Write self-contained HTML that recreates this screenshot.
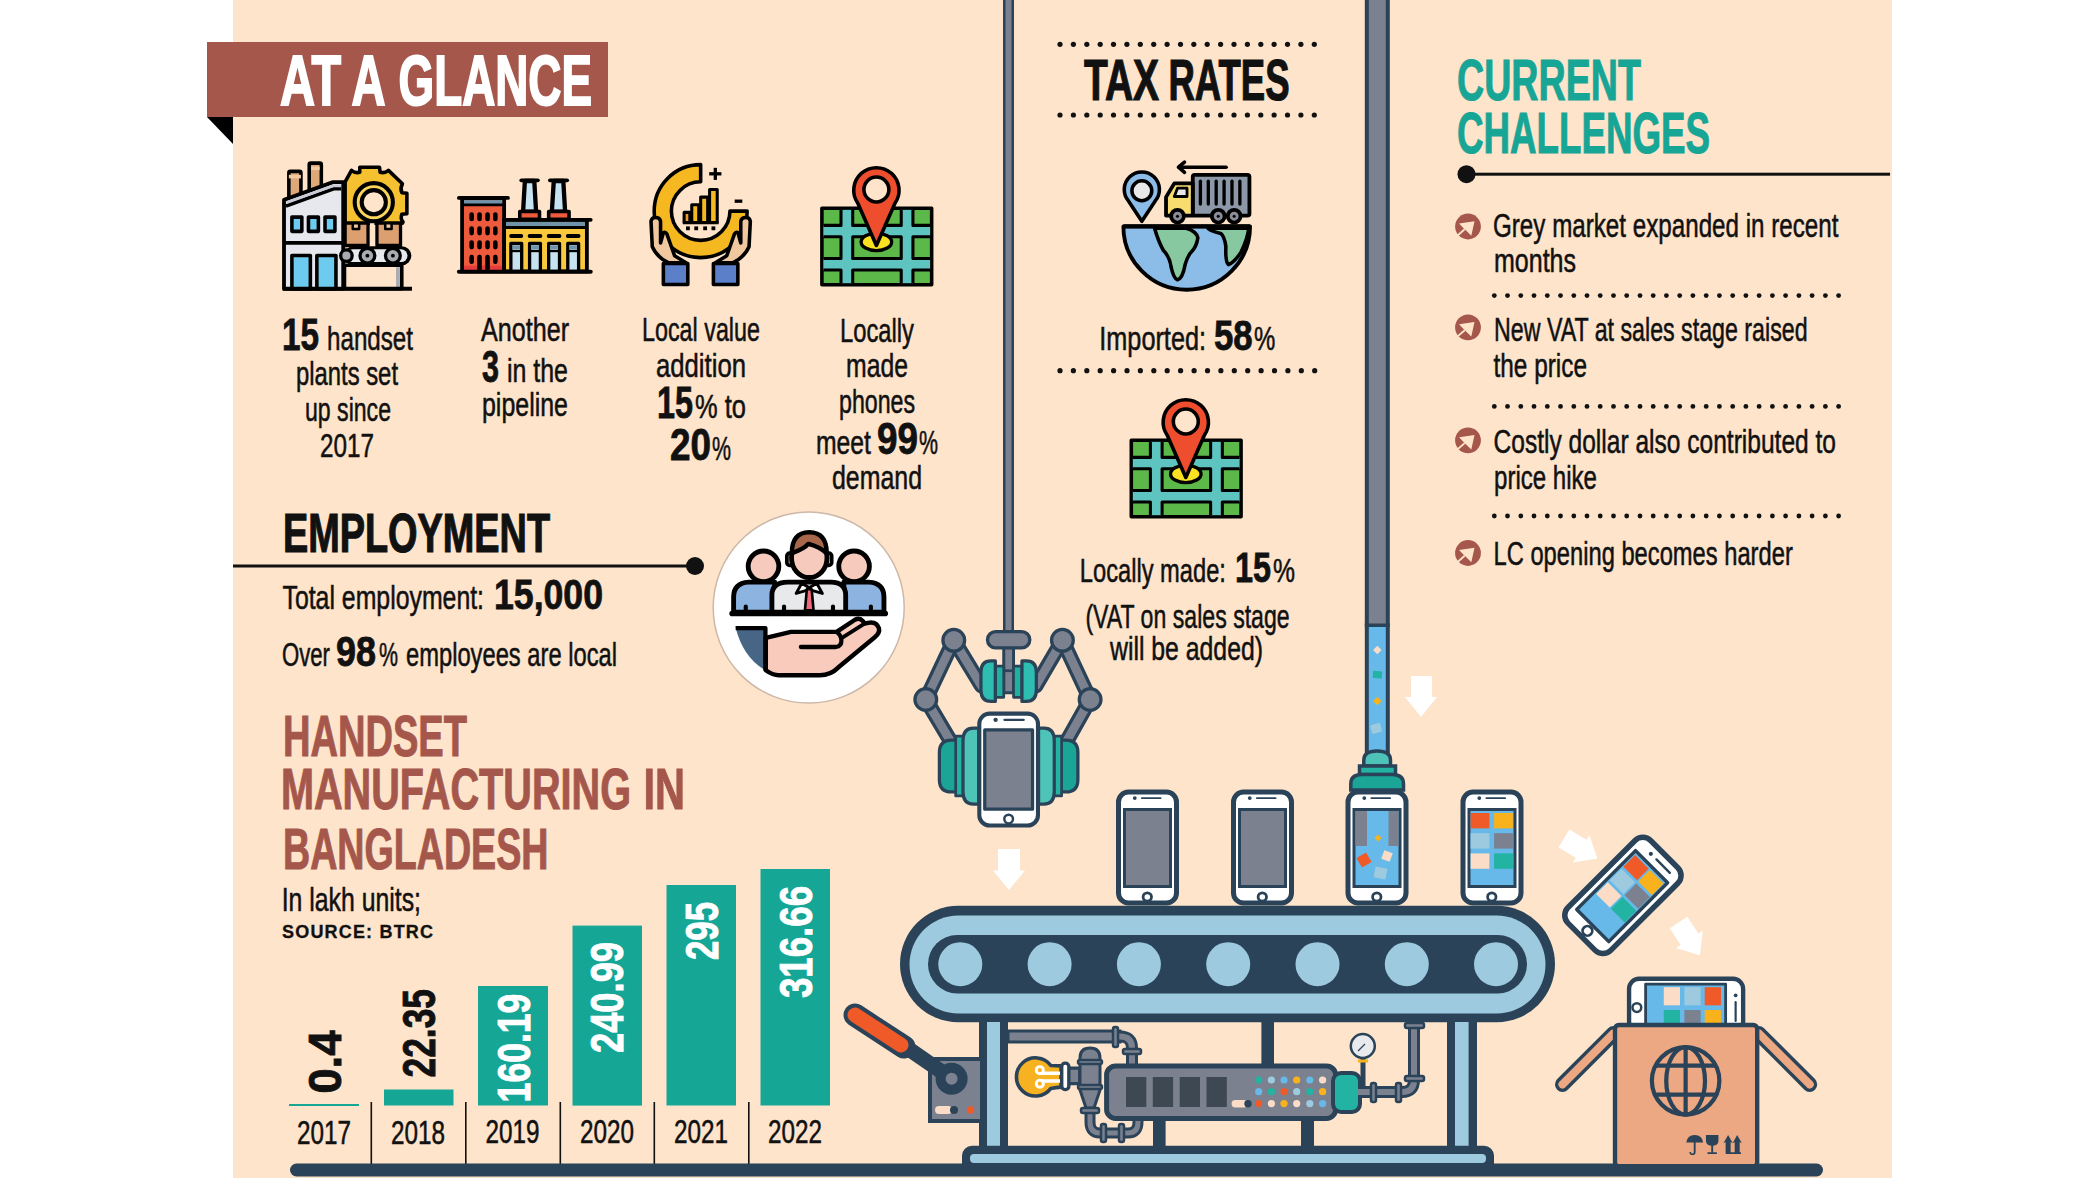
<!DOCTYPE html>
<html><head><meta charset="utf-8">
<style>
html,body{margin:0;padding:0;background:#fff;width:2100px;height:1178px;overflow:hidden}
svg{display:block}
text{font-family:"Liberation Sans",sans-serif}
.r{font-weight:400;fill:#111;stroke:#111;stroke-width:0.55px}
.b{font-weight:700;fill:#111;stroke:#111;stroke-width:0.8px}
</style></head><body>
<svg width="2100" height="1178" viewBox="0 0 2100 1178">
<rect x="0" y="0" width="2100" height="1178" fill="#ffffff"/>
<rect x="233" y="0" width="1659" height="1178" fill="#fde4cb"/>

<!-- ===== AT A GLANCE banner ===== -->
<rect x="207" y="42" width="401" height="75" fill="#a5574b"/>
<polygon points="207,117 233,117 233,144" fill="#000"/>
<g font-size="70" font-weight="700" fill="#fff" stroke="#fff" stroke-width="2">
<text x="280" y="104.6" textLength="61" lengthAdjust="spacingAndGlyphs">AT</text>
<text x="351.5" y="104.6" textLength="34" lengthAdjust="spacingAndGlyphs">A</text>
<text x="398.5" y="104.6" textLength="193.5" lengthAdjust="spacingAndGlyphs">GLANCE</text>
</g>

<!-- ===== ICON 1: factory + gear ===== -->
<g transform="translate(270,150) scale(0.12733)" stroke="#000" stroke-linejoin="round">
 <!-- chimneys -->
 <rect x="148" y="168" width="95" height="220" rx="12" fill="#dfa878" stroke-width="28"/>
 <rect x="148" y="195" width="95" height="28" fill="#f3c9a0" stroke="none"/>
 <rect x="308" y="103" width="95" height="220" rx="12" fill="#dfa878" stroke-width="28"/>
 <rect x="322" y="130" width="68" height="28" fill="#f3c9a0" stroke="none"/>
 <!-- gear -->
 <path d="M705,135 L860,135 L865,175 Q900,185 930,160 L1040,265 Q1020,300 1035,335 L1075,340 L1075,500 L1035,505 Q1022,540 1045,565 L1040,575 L590,575 L590,250 L640,160 Q670,185 705,175 Z" fill="#f5c130" stroke-width="28"/>
 <circle cx="815" cy="410" r="150" fill="#f9d55e" stroke-width="32"/>
 <circle cx="815" cy="410" r="95" fill="#fde4cb" stroke-width="32"/>
 <!-- building -->
 <path d="M110,1090 L110,392 L495,252 L575,252 L575,1090 Z" fill="#e6e8ee" stroke-width="30"/>
 <path d="M125,440 L500,305 L560,305" fill="none" stroke="#000" stroke-width="28"/>
 <path d="M132,400 L495,270 L558,270 L558,292 L495,292 L132,425 Z" fill="#c9ccd6" stroke="none"/>
 <line x1="110" y1="730" x2="575" y2="730" stroke-width="30"/>
 <rect x="172" y="527" width="78" height="112" fill="#6ccbef" stroke-width="28"/>
 <rect x="302" y="527" width="78" height="112" fill="#6ccbef" stroke-width="28"/>
 <rect x="432" y="527" width="78" height="112" fill="#6ccbef" stroke-width="28"/>
 <rect x="172" y="828" width="145" height="262" fill="#6ccbef" stroke-width="28"/>
 <rect x="368" y="828" width="150" height="262" fill="#6ccbef" stroke-width="28"/>
 <!-- boxes -->
 <rect x="590" y="575" width="180" height="175" fill="#dca070" stroke-width="26"/>
 <rect x="840" y="575" width="185" height="175" fill="#dca070" stroke-width="26"/>
 <rect x="650" y="575" width="50" height="45" fill="#f3c9a0" stroke-width="20"/>
 <rect x="905" y="575" width="50" height="45" fill="#f3c9a0" stroke-width="20"/>
 <rect x="785" y="575" width="35" height="175" fill="#fde4cb" stroke="none"/>
 <!-- conveyor -->
 <rect x="580" y="755" width="530" height="150" rx="75" fill="#000" stroke="none"/>
 <rect x="600" y="780" width="480" height="100" rx="50" fill="#e6e8ee" stroke="none"/>
 <circle cx="765" cy="830" r="58" fill="#a9abb2" stroke-width="26"/>
 <circle cx="765" cy="830" r="15" fill="#000" stroke="none"/>
 <circle cx="965" cy="830" r="58" fill="#a9abb2" stroke-width="26"/>
 <circle cx="965" cy="830" r="15" fill="#000" stroke="none"/>
 <circle cx="600" cy="830" r="45" fill="#a9abb2" stroke-width="26"/>
 <!-- stand -->
 <rect x="585" y="905" width="450" height="185" fill="#fde4cb" stroke-width="28"/>
 <rect x="990" y="920" width="30" height="160" fill="#a9abb2" stroke="none"/>
 <line x1="100" y1="1090" x2="1115" y2="1090" stroke-width="32"/>
</g>

<!-- ===== ICON 2: buildings ===== -->
<g transform="translate(450,160) scale(0.12733)" stroke="#000" stroke-linejoin="round">
 <!-- chimneys -->
 <path d="M588,165 L662,165 L676,405 L574,405 Z" fill="#c7e3f2" stroke-width="34"/>
 <path d="M815,165 L890,165 L904,405 L800,405 Z" fill="#c7e3f2" stroke-width="34"/>
 <line x1="560" y1="160" x2="690" y2="160" stroke-width="30" stroke-linecap="round"/>
 <line x1="785" y1="160" x2="920" y2="160" stroke-width="30" stroke-linecap="round"/>
 <rect x="548" y="405" width="155" height="60" fill="#ee5a3c" stroke-width="28"/>
 <rect x="775" y="405" width="160" height="60" fill="#ee5a3c" stroke-width="28"/>
 <!-- red building -->
 <rect x="95" y="300" width="330" height="575" fill="#ee5a3c" stroke-width="30"/>
 <rect x="110" y="315" width="300" height="35" fill="#6f93a8" stroke="none"/>
 <line x1="95" y1="352" x2="425" y2="352" stroke-width="22"/>
 <rect x="110" y="830" width="300" height="35" fill="#e63c3c" stroke="none"/>
 <line x1="70" y1="298" x2="455" y2="298" stroke-width="30" stroke-linecap="round"/>
 <g fill="#000" stroke="none">
  <rect x="152" y="410" width="36" height="72" rx="18"/><rect x="214" y="410" width="36" height="72" rx="18"/><rect x="277" y="410" width="36" height="72" rx="18"/><rect x="338" y="410" width="36" height="72" rx="18"/>
  <rect x="152" y="520" width="36" height="72" rx="18"/><rect x="214" y="520" width="36" height="72" rx="18"/><rect x="277" y="520" width="36" height="72" rx="18"/><rect x="338" y="520" width="36" height="72" rx="18"/>
  <rect x="152" y="630" width="36" height="72" rx="18"/><rect x="214" y="630" width="36" height="72" rx="18"/><rect x="277" y="630" width="36" height="72" rx="18"/><rect x="338" y="630" width="36" height="72" rx="18"/>
  <rect x="152" y="745" width="36" height="72" rx="18"/><rect x="214" y="745" width="36" height="130" rx="18"/><rect x="277" y="745" width="36" height="130" rx="18"/><rect x="338" y="745" width="36" height="72" rx="18"/>
 </g>
 <!-- yellow building -->
 <rect x="425" y="470" width="650" height="405" fill="#f9c83c" stroke-width="30"/>
 <rect x="440" y="485" width="620" height="38" fill="#6f93a8" stroke="none"/>
 <line x1="425" y1="530" x2="1075" y2="530" stroke-width="24"/>
 <line x1="425" y1="470" x2="1105" y2="470" stroke-width="30" stroke-linecap="round"/>
 <g stroke-width="30" stroke-linecap="round">
  <line x1="480" y1="597" x2="560" y2="597"/><line x1="625" y1="597" x2="710" y2="597"/><line x1="775" y1="597" x2="860" y2="597"/><line x1="925" y1="597" x2="1010" y2="597"/>
 </g>
 <g stroke-width="26">
  <rect x="478" y="655" width="85" height="220" fill="#c7e3f2"/><rect x="625" y="655" width="85" height="220" fill="#c7e3f2"/>
  <rect x="775" y="655" width="85" height="220" fill="#c7e3f2"/><rect x="925" y="655" width="85" height="220" fill="#c7e3f2"/>
 </g>
 <g fill="#6f93a8" stroke="none">
  <rect x="492" y="670" width="58" height="32"/><rect x="639" y="670" width="58" height="32"/><rect x="789" y="670" width="58" height="32"/><rect x="939" y="670" width="58" height="32"/>
 </g>
 <g stroke-width="18">
  <line x1="478" y1="715" x2="563" y2="715"/><line x1="625" y1="715" x2="710" y2="715"/><line x1="775" y1="715" x2="860" y2="715"/><line x1="925" y1="715" x2="1010" y2="715"/>
 </g>
 <line x1="70" y1="877" x2="1105" y2="877" stroke-width="32" stroke-linecap="round"/>
</g>

<!-- ===== ICON 3: hands + donut ===== -->
<g transform="translate(630,150) scale(0.12733)" stroke="#000" stroke-linejoin="round">
 <!-- donut arc: from top (555,115) ccw to right (920,480) -->
 <path d="M555,115 A365,365 0 1 0 920,480 L785,480 A230,230 0 1 1 555,250 Z" fill="#f5b820" stroke-width="28"/>
 <!-- bars -->
 <rect x="425" y="490" width="45" height="80" fill="#ee9a2c" stroke-width="24"/>
 <rect x="485" y="430" width="55" height="140" fill="#f5b820" stroke-width="24"/>
 <rect x="555" y="370" width="55" height="200" fill="#f5b820" stroke-width="24"/>
 <rect x="625" y="310" width="60" height="260" fill="#f5b820" stroke-width="24"/>
 <line x1="415" y1="570" x2="695" y2="570" stroke-width="26"/>
 <g fill="#000" stroke="none">
  <rect x="440" y="600" width="30" height="30"/><rect x="505" y="600" width="30" height="30"/><rect x="575" y="600" width="30" height="30"/><rect x="640" y="600" width="30" height="30"/>
 </g>
 <g stroke-width="26"><line x1="670" y1="140" x2="670" y2="235"/><line x1="622" y1="187" x2="718" y2="187"/><line x1="822" y1="402" x2="882" y2="402"/></g>
 <!-- hands -->
 <path d="M300,885 Q210,840 175,760 L165,560 Q170,530 200,530 Q235,530 240,560 L240,730 L262,650 Q275,640 290,660 L325,760 L350,830 L440,885 Z" fill="#f0c8a0" stroke-width="28"/>
 <path d="M810,885 Q900,840 935,760 L945,560 Q940,530 910,530 Q875,530 870,560 L870,730 L848,650 Q835,640 820,660 L785,760 L760,830 L670,885 Z" fill="#f0c8a0" stroke-width="28"/>
 <rect x="262" y="892" width="192" height="165" fill="#5b7fc8" stroke-width="28"/>
 <rect x="655" y="892" width="192" height="165" fill="#5b7fc8" stroke-width="28"/>
</g>

<!-- ===== MAP ICON (used twice) ===== -->
<defs>
<g id="mapIcon" stroke="#000" stroke-linejoin="round">
 <rect x="172" y="458" width="862" height="600" fill="#5cb848" stroke-width="28"/>
 <g fill="#5ec4c0" stroke="none">
  <rect x="322" y="470" width="92" height="576"/><rect x="795" y="470" width="92" height="576"/>
  <rect x="184" y="592" width="838" height="90"/><rect x="184" y="852" width="838" height="90"/>
 </g>
 <g fill="none" stroke-width="24">
  <path d="M322,470 L322,592 L184,592"/><path d="M414,470 L414,592 L795,592 L795,470"/><path d="M887,470 L887,592 L1022,592"/>
  <path d="M184,682 L322,682 L322,852 L184,852"/><path d="M414,682 L795,682 L795,852 L414,852 Z"/><path d="M1022,682 L887,682 L887,852 L1022,852"/>
  <path d="M184,942 L322,942 L322,1046"/><path d="M414,1046 L414,942 L795,942 L795,1046"/><path d="M887,1046 L887,942 L1022,942"/>
 </g>
 <ellipse cx="600" cy="722" rx="120" ry="68" fill="#f9e020" stroke-width="26"/>
 <path d="M600,750 L455,420 A178,178 0 1 1 745,420 Z" fill="#ee4d2e" stroke-width="28"/>
 <circle cx="600" cy="310" r="98" fill="#fde4cb" stroke-width="28"/>
</g>
</defs>
<use href="#mapIcon" transform="translate(800,150) scale(0.12733)"/>
<use href="#mapIcon" transform="translate(1109.4,382) scale(0.12733)"/>

<!-- ===== GLOBE + TRUCK ===== -->
<g transform="translate(1110,150) scale(0.12733)" stroke="#000" stroke-linejoin="round">
 <path d="M105,600 L1100,600 A497,497 0 0 1 105,600 Z" fill="#8cbce8" stroke-width="30"/>
 <path d="M350,615 Q380,720 420,790 Q470,840 480,920 Q500,1010 530,1020 Q570,1010 590,900 Q610,830 640,800 Q680,760 690,690 Q680,640 600,615 Z" fill="#88c8a0" stroke-width="28"/>
 <path d="M770,615 Q800,640 870,655 Q900,680 910,760 Q905,880 930,900 Q980,880 1030,800 Q1080,700 1090,615 Z" fill="#88c8a0" stroke-width="28"/>
 <path d="M105,600 L1100,600" stroke-width="34"/>
 <!-- pin -->
 <path d="M250,560 L145,400 A138,138 0 1 1 355,400 Z" fill="#8cbce8" stroke-width="28"/>
 <circle cx="250" cy="320" r="78" fill="#e8e8ea" stroke-width="28"/>
 <!-- truck -->
 <rect x="650" y="195" width="445" height="320" rx="15" fill="#8c98a8" stroke-width="30"/>
 <g stroke-width="26" stroke-linecap="round">
  <line x1="710" y1="245" x2="710" y2="425"/><line x1="772" y1="245" x2="772" y2="425"/><line x1="834" y1="245" x2="834" y2="425"/>
  <line x1="896" y1="245" x2="896" y2="425"/><line x1="958" y1="245" x2="958" y2="425"/><line x1="1020" y1="245" x2="1020" y2="425"/>
 </g>
 <path d="M650,262 L505,262 L440,370 L440,515 L650,515 Z" fill="#f8dc70" stroke-width="30"/>
 <path d="M530,300 L605,300 L605,365 L505,365 Z" fill="#e8e8ea" stroke-width="22"/>
 <circle cx="530" cy="520" r="50" fill="#8c8c98" stroke-width="30"/><circle cx="530" cy="520" r="12" fill="#000" stroke="none"/>
 <circle cx="850" cy="520" r="50" fill="#8c8c98" stroke-width="30"/><circle cx="850" cy="520" r="12" fill="#000" stroke="none"/>
 <circle cx="975" cy="520" r="50" fill="#8c8c98" stroke-width="30"/><circle cx="975" cy="520" r="12" fill="#000" stroke="none"/>
 <g stroke-width="28" stroke-linecap="round" fill="none">
  <line x1="540" y1="135" x2="912" y2="135"/><path d="M585,95 L538,135 L585,175"/>
 </g>
</g>


<!-- ===== captions ===== -->
<g>
<text class="b" x="282" y="350" font-size="45" textLength="37" lengthAdjust="spacingAndGlyphs">15</text>
<text class="r" x="327" y="350" font-size="34" textLength="86" lengthAdjust="spacingAndGlyphs">handset</text>
<text class="r" x="296" y="385" font-size="34" textLength="102" lengthAdjust="spacingAndGlyphs">plants set</text>
<text class="r" x="305" y="421" font-size="34" textLength="86" lengthAdjust="spacingAndGlyphs">up since</text>
<text class="r" x="320" y="457" font-size="34" textLength="54" lengthAdjust="spacingAndGlyphs">2017</text>

<text class="r" x="481" y="341" font-size="34" textLength="88" lengthAdjust="spacingAndGlyphs">Another</text>
<text class="b" x="482" y="382" font-size="45" textLength="17" lengthAdjust="spacingAndGlyphs">3</text>
<text class="r" x="507" y="382" font-size="34" textLength="61" lengthAdjust="spacingAndGlyphs">in the</text>
<text class="r" x="482" y="416" font-size="34" textLength="86" lengthAdjust="spacingAndGlyphs">pipeline</text>

<text class="r" x="642" y="341" font-size="34" textLength="118" lengthAdjust="spacingAndGlyphs">Local value</text>
<text class="r" x="656" y="376.5" font-size="34" textLength="90" lengthAdjust="spacingAndGlyphs">addition</text>
<text class="b" x="657" y="418" font-size="45" textLength="36" lengthAdjust="spacingAndGlyphs">15</text>
<text class="r" x="695" y="418" font-size="34" textLength="51" lengthAdjust="spacingAndGlyphs">% to</text>
<text class="b" x="670" y="459.5" font-size="45" textLength="41" lengthAdjust="spacingAndGlyphs">20</text>
<text class="r" x="712" y="459.5" font-size="34" textLength="19" lengthAdjust="spacingAndGlyphs">%</text>

<text class="r" x="840" y="341.6" font-size="34" textLength="74" lengthAdjust="spacingAndGlyphs">Locally</text>
<text class="r" x="846" y="377" font-size="34" textLength="62" lengthAdjust="spacingAndGlyphs">made</text>
<text class="r" x="839" y="413" font-size="34" textLength="76" lengthAdjust="spacingAndGlyphs">phones</text>
<text class="r" x="816" y="453.7" font-size="34" textLength="55" lengthAdjust="spacingAndGlyphs">meet</text>
<text class="b" x="877" y="453.7" font-size="45" textLength="41" lengthAdjust="spacingAndGlyphs">99</text>
<text class="r" x="919" y="453.7" font-size="34" textLength="19" lengthAdjust="spacingAndGlyphs">%</text>
<text class="r" x="832" y="489.4" font-size="34" textLength="90" lengthAdjust="spacingAndGlyphs">demand</text>
</g>

<!-- ===== EMPLOYMENT ===== -->
<text class="b" style="stroke-width:1.2px" x="283" y="552" font-size="55" textLength="267" lengthAdjust="spacingAndGlyphs">EMPLOYMENT</text>
<rect x="233" y="564.5" width="462" height="3" fill="#111"/>
<circle cx="695" cy="566" r="9" fill="#111"/>
<text class="r" x="282.5" y="608.5" font-size="34" textLength="201.5" lengthAdjust="spacingAndGlyphs">Total employment:</text>
<text class="b" x="494" y="608.5" font-size="43" textLength="109" lengthAdjust="spacingAndGlyphs">15,000</text>
<text class="r" x="282" y="665.7" font-size="34" textLength="48" lengthAdjust="spacingAndGlyphs">Over</text>
<text class="b" x="336" y="665.7" font-size="43" textLength="40" lengthAdjust="spacingAndGlyphs">98</text>
<text class="r" x="379" y="665.7" font-size="34" textLength="19" lengthAdjust="spacingAndGlyphs">%</text>
<text class="r" x="406" y="665.7" font-size="34" textLength="211" lengthAdjust="spacingAndGlyphs">employees are local</text>

<!-- ===== PEOPLE CIRCLE (zoomed coords origin 700,500 s=0.18676) ===== -->
<circle cx="808.7" cy="607.6" r="95.5" fill="#fff" stroke="#cdb8a8" stroke-width="1.5"/>
<g transform="translate(700,500) scale(0.18676)" stroke="#000" stroke-linejoin="round">
 <!-- left & right bodies -->
 <path d="M180,600 L180,520 Q180,445 260,440 L400,440 L400,600 Z" fill="#8db3e0" stroke-width="26"/>
 <path d="M985,600 L985,520 Q985,445 905,440 L770,440 L770,600 Z" fill="#8db3e0" stroke-width="26"/>
 <circle cx="340" cy="355" r="82" fill="#f6cbbd" stroke-width="26"/>
 <circle cx="825" cy="355" r="82" fill="#f6cbbd" stroke-width="26"/>
 <!-- centre body -->
 <path d="M385,600 L385,510 Q385,440 470,440 L700,440 Q780,440 780,510 L780,600 Z" fill="#e8e9ea" stroke-width="26"/>
 <path d="M545,445 L585,470 L625,445 L655,500 L585,480 L515,500 Z" fill="#fff" stroke-width="16"/>
 <path d="M572,478 L598,478 L608,590 L562,590 Z" fill="#ee6a78" stroke-width="14"/>
 <!-- centre head -->
 <rect x="465" y="285" width="40" height="65" rx="15" fill="#f6cbbd" stroke-width="20"/>
 <rect x="665" y="285" width="40" height="65" rx="15" fill="#f6cbbd" stroke-width="20"/>
 <ellipse cx="585" cy="310" rx="95" ry="105" fill="#f6cbbd" stroke-width="26"/>
 <path d="M492,285 Q490,175 585,172 Q680,175 678,285 Q640,250 580,235 Q560,260 492,285 Z" fill="#a8664a" stroke-width="24"/>
 <!-- arm slits -->
 <g stroke-width="22" stroke-linecap="round"><line x1="245" y1="570" x2="245" y2="598"/><line x1="450" y1="570" x2="450" y2="598"/><line x1="712" y1="570" x2="712" y2="598"/><line x1="915" y1="570" x2="915" y2="598"/></g>
 <line x1="172" y1="608" x2="992" y2="608" stroke-width="30" stroke-linecap="round"/>
 <!-- hand -->
</g>
<g transform="translate(730,615) scale(0.07619)" stroke="#000" stroke-linejoin="round" stroke-linecap="round">
 <path d="M70,150 L465,150 L465,725 Q170,560 70,150 Z" fill="#476585" stroke="none"/>
 <path d="M75,172 L465,172 L465,728" fill="none" stroke-width="56" stroke-linecap="butt"/>
 <path d="M470,300 L800,222 L1400,222 L1640,62 Q1700,28 1745,80 L1765,112 L1835,100 Q1925,92 1955,175 Q1970,235 1900,292 L1420,690 Q1320,790 1180,790 L640,790 Q560,790 470,725 Z" fill="#f9cbbd" stroke-width="58"/>
 <path d="M1480,295 L1765,112" fill="none" stroke-width="50"/>
 <path d="M930,420 L1390,420 Q1465,412 1462,330 Q1455,255 1400,224" fill="none" stroke-width="56"/>
</g>

<!-- ===== BULLETS ===== -->
<defs>
<g id="bul">
 <circle cx="0" cy="0" r="12.9" fill="#a5574b"/>
 <polygon points="6.5,-5.3 3.3,9.2 -2.4,3.6 -4.2,1.9 -8.9,-3.1" fill="#fde4cb"/>
 <line x1="-3.3" y1="2.8" x2="-11" y2="9.5" stroke="#fde4cb" stroke-width="1.8"/>
</g>
</defs>
<use href="#bul" x="1468" y="226.5"/>
<use href="#bul" x="1468" y="327.4"/>
<use href="#bul" x="1468" y="440.3"/>
<use href="#bul" x="1468" y="553"/>


<!-- ===== HANDSET MANUFACTURING ===== -->
<g fill="#a5574b" stroke="#a5574b" stroke-width="1" font-weight="700">
<text x="283" y="756" font-size="57" textLength="184" lengthAdjust="spacingAndGlyphs">HANDSET</text>
<text x="281" y="809.3" font-size="57" textLength="350" lengthAdjust="spacingAndGlyphs">MANUFACTURING</text>
<text x="643.5" y="809.3" font-size="57" textLength="41.5" lengthAdjust="spacingAndGlyphs">IN</text>
<text x="283" y="868.7" font-size="57" textLength="265.4" lengthAdjust="spacingAndGlyphs">BANGLADESH</text>
</g>
<text class="r" x="281.7" y="911" font-size="34" textLength="139.3" lengthAdjust="spacingAndGlyphs">In lakh units;</text>
<text class="b" style="stroke-width:0.3px" x="282" y="938" font-size="18" textLength="151" lengthAdjust="spacing">SOURCE: BTRC</text>

<!-- ===== BAR CHART ===== -->
<g fill="#16a696">
<rect x="289" y="1104" width="70" height="2"/>
<rect x="384" y="1089.5" width="69.5" height="16"/>
<rect x="478" y="986" width="70" height="119.5"/>
<rect x="572.5" y="925.6" width="69.5" height="180"/>
<rect x="666.5" y="885" width="69.5" height="220.5"/>
<rect x="760.5" y="869" width="69.5" height="236.5"/>
</g>
<g fill="#111">
<rect x="370.5" y="1102" width="1.6" height="62"/>
<rect x="465" y="1102" width="1.6" height="62"/>
<rect x="559.5" y="1102" width="1.6" height="62"/>
<rect x="653.5" y="1102" width="1.6" height="62"/>
<rect x="748" y="1102" width="1.6" height="62"/>
</g>
<g class="r" font-size="34">
<text class="r" x="297" y="1144" textLength="54" lengthAdjust="spacingAndGlyphs">2017</text>
<text class="r" x="391" y="1144" textLength="54" lengthAdjust="spacingAndGlyphs">2018</text>
<text class="r" x="485.6" y="1143.4" textLength="54" lengthAdjust="spacingAndGlyphs">2019</text>
<text class="r" x="580" y="1143.4" textLength="54" lengthAdjust="spacingAndGlyphs">2020</text>
<text class="r" x="674" y="1143.4" textLength="54" lengthAdjust="spacingAndGlyphs">2021</text>
<text class="r" x="768" y="1143.4" textLength="54" lengthAdjust="spacingAndGlyphs">2022</text>
</g>
<g font-weight="700" font-size="46" stroke-width="0.9">
<text fill="#111" stroke="#111" transform="translate(341,1093.6) rotate(-90)" textLength="63" lengthAdjust="spacingAndGlyphs">0.4</text>
<text fill="#111" stroke="#111" transform="translate(435,1077.5) rotate(-90)" textLength="88.5" lengthAdjust="spacingAndGlyphs">22.35</text>
<text fill="#fff" stroke="#fff" transform="translate(530,1102.4) rotate(-90)" textLength="108.8" lengthAdjust="spacingAndGlyphs">160.19</text>
<text fill="#fff" stroke="#fff" transform="translate(623,1053) rotate(-90)" textLength="111" lengthAdjust="spacingAndGlyphs">240.99</text>
<text fill="#fff" stroke="#fff" transform="translate(718,960) rotate(-90)" textLength="58" lengthAdjust="spacingAndGlyphs">295</text>
<text fill="#fff" stroke="#fff" transform="translate(812,998) rotate(-90)" textLength="112" lengthAdjust="spacingAndGlyphs">316.66</text>
</g>

<!-- ===== TAX RATES ===== -->
<g fill="#111"><circle cx="1060.0" cy="44.3" r="2.6"/><circle cx="1073.4" cy="44.3" r="2.6"/><circle cx="1086.8" cy="44.3" r="2.6"/><circle cx="1100.2" cy="44.3" r="2.6"/><circle cx="1113.5" cy="44.3" r="2.6"/><circle cx="1126.9" cy="44.3" r="2.6"/><circle cx="1140.3" cy="44.3" r="2.6"/><circle cx="1153.7" cy="44.3" r="2.6"/><circle cx="1167.1" cy="44.3" r="2.6"/><circle cx="1180.5" cy="44.3" r="2.6"/><circle cx="1193.8" cy="44.3" r="2.6"/><circle cx="1207.2" cy="44.3" r="2.6"/><circle cx="1220.6" cy="44.3" r="2.6"/><circle cx="1234.0" cy="44.3" r="2.6"/><circle cx="1247.4" cy="44.3" r="2.6"/><circle cx="1260.8" cy="44.3" r="2.6"/><circle cx="1274.1" cy="44.3" r="2.6"/><circle cx="1287.5" cy="44.3" r="2.6"/><circle cx="1300.9" cy="44.3" r="2.6"/><circle cx="1314.3" cy="44.3" r="2.6"/><circle cx="1060.0" cy="115" r="2.6"/><circle cx="1073.4" cy="115" r="2.6"/><circle cx="1086.8" cy="115" r="2.6"/><circle cx="1100.2" cy="115" r="2.6"/><circle cx="1113.5" cy="115" r="2.6"/><circle cx="1126.9" cy="115" r="2.6"/><circle cx="1140.3" cy="115" r="2.6"/><circle cx="1153.7" cy="115" r="2.6"/><circle cx="1167.1" cy="115" r="2.6"/><circle cx="1180.5" cy="115" r="2.6"/><circle cx="1193.8" cy="115" r="2.6"/><circle cx="1207.2" cy="115" r="2.6"/><circle cx="1220.6" cy="115" r="2.6"/><circle cx="1234.0" cy="115" r="2.6"/><circle cx="1247.4" cy="115" r="2.6"/><circle cx="1260.8" cy="115" r="2.6"/><circle cx="1274.1" cy="115" r="2.6"/><circle cx="1287.5" cy="115" r="2.6"/><circle cx="1300.9" cy="115" r="2.6"/><circle cx="1314.3" cy="115" r="2.6"/><circle cx="1060.0" cy="370.7" r="2.6"/><circle cx="1073.4" cy="370.7" r="2.6"/><circle cx="1086.8" cy="370.7" r="2.6"/><circle cx="1100.2" cy="370.7" r="2.6"/><circle cx="1113.6" cy="370.7" r="2.6"/><circle cx="1127.0" cy="370.7" r="2.6"/><circle cx="1140.4" cy="370.7" r="2.6"/><circle cx="1153.8" cy="370.7" r="2.6"/><circle cx="1167.2" cy="370.7" r="2.6"/><circle cx="1180.6" cy="370.7" r="2.6"/><circle cx="1194.1" cy="370.7" r="2.6"/><circle cx="1207.5" cy="370.7" r="2.6"/><circle cx="1220.9" cy="370.7" r="2.6"/><circle cx="1234.3" cy="370.7" r="2.6"/><circle cx="1247.7" cy="370.7" r="2.6"/><circle cx="1261.1" cy="370.7" r="2.6"/><circle cx="1274.5" cy="370.7" r="2.6"/><circle cx="1287.9" cy="370.7" r="2.6"/><circle cx="1301.3" cy="370.7" r="2.6"/><circle cx="1314.7" cy="370.7" r="2.6"/><circle cx="1494.3" cy="295.6" r="2.4"/><circle cx="1507.5" cy="295.6" r="2.4"/><circle cx="1520.8" cy="295.6" r="2.4"/><circle cx="1534.0" cy="295.6" r="2.4"/><circle cx="1547.3" cy="295.6" r="2.4"/><circle cx="1560.5" cy="295.6" r="2.4"/><circle cx="1573.8" cy="295.6" r="2.4"/><circle cx="1587.0" cy="295.6" r="2.4"/><circle cx="1600.2" cy="295.6" r="2.4"/><circle cx="1613.5" cy="295.6" r="2.4"/><circle cx="1626.7" cy="295.6" r="2.4"/><circle cx="1640.0" cy="295.6" r="2.4"/><circle cx="1653.2" cy="295.6" r="2.4"/><circle cx="1666.4" cy="295.6" r="2.4"/><circle cx="1679.7" cy="295.6" r="2.4"/><circle cx="1692.9" cy="295.6" r="2.4"/><circle cx="1706.2" cy="295.6" r="2.4"/><circle cx="1719.4" cy="295.6" r="2.4"/><circle cx="1732.7" cy="295.6" r="2.4"/><circle cx="1745.9" cy="295.6" r="2.4"/><circle cx="1759.1" cy="295.6" r="2.4"/><circle cx="1772.4" cy="295.6" r="2.4"/><circle cx="1785.6" cy="295.6" r="2.4"/><circle cx="1798.9" cy="295.6" r="2.4"/><circle cx="1812.1" cy="295.6" r="2.4"/><circle cx="1825.4" cy="295.6" r="2.4"/><circle cx="1838.6" cy="295.6" r="2.4"/><circle cx="1494.3" cy="406.4" r="2.4"/><circle cx="1507.5" cy="406.4" r="2.4"/><circle cx="1520.8" cy="406.4" r="2.4"/><circle cx="1534.0" cy="406.4" r="2.4"/><circle cx="1547.3" cy="406.4" r="2.4"/><circle cx="1560.5" cy="406.4" r="2.4"/><circle cx="1573.8" cy="406.4" r="2.4"/><circle cx="1587.0" cy="406.4" r="2.4"/><circle cx="1600.2" cy="406.4" r="2.4"/><circle cx="1613.5" cy="406.4" r="2.4"/><circle cx="1626.7" cy="406.4" r="2.4"/><circle cx="1640.0" cy="406.4" r="2.4"/><circle cx="1653.2" cy="406.4" r="2.4"/><circle cx="1666.4" cy="406.4" r="2.4"/><circle cx="1679.7" cy="406.4" r="2.4"/><circle cx="1692.9" cy="406.4" r="2.4"/><circle cx="1706.2" cy="406.4" r="2.4"/><circle cx="1719.4" cy="406.4" r="2.4"/><circle cx="1732.7" cy="406.4" r="2.4"/><circle cx="1745.9" cy="406.4" r="2.4"/><circle cx="1759.1" cy="406.4" r="2.4"/><circle cx="1772.4" cy="406.4" r="2.4"/><circle cx="1785.6" cy="406.4" r="2.4"/><circle cx="1798.9" cy="406.4" r="2.4"/><circle cx="1812.1" cy="406.4" r="2.4"/><circle cx="1825.4" cy="406.4" r="2.4"/><circle cx="1838.6" cy="406.4" r="2.4"/><circle cx="1494.3" cy="516" r="2.4"/><circle cx="1507.5" cy="516" r="2.4"/><circle cx="1520.8" cy="516" r="2.4"/><circle cx="1534.0" cy="516" r="2.4"/><circle cx="1547.3" cy="516" r="2.4"/><circle cx="1560.5" cy="516" r="2.4"/><circle cx="1573.8" cy="516" r="2.4"/><circle cx="1587.0" cy="516" r="2.4"/><circle cx="1600.2" cy="516" r="2.4"/><circle cx="1613.5" cy="516" r="2.4"/><circle cx="1626.7" cy="516" r="2.4"/><circle cx="1640.0" cy="516" r="2.4"/><circle cx="1653.2" cy="516" r="2.4"/><circle cx="1666.4" cy="516" r="2.4"/><circle cx="1679.7" cy="516" r="2.4"/><circle cx="1692.9" cy="516" r="2.4"/><circle cx="1706.2" cy="516" r="2.4"/><circle cx="1719.4" cy="516" r="2.4"/><circle cx="1732.7" cy="516" r="2.4"/><circle cx="1745.9" cy="516" r="2.4"/><circle cx="1759.1" cy="516" r="2.4"/><circle cx="1772.4" cy="516" r="2.4"/><circle cx="1785.6" cy="516" r="2.4"/><circle cx="1798.9" cy="516" r="2.4"/><circle cx="1812.1" cy="516" r="2.4"/><circle cx="1825.4" cy="516" r="2.4"/><circle cx="1838.6" cy="516" r="2.4"/></g>
<text class="b" style="stroke-width:1.2px" x="1084" y="100" font-size="57" textLength="75" lengthAdjust="spacingAndGlyphs">TAX</text>
<text class="b" style="stroke-width:1.2px" x="1168.5" y="100" font-size="57" textLength="121" lengthAdjust="spacingAndGlyphs">RATES</text>
<text class="r" x="1099.3" y="350" font-size="34" textLength="106.7" lengthAdjust="spacingAndGlyphs">Imported:</text>
<text class="b" x="1214" y="350" font-size="43" textLength="38.7" lengthAdjust="spacingAndGlyphs">58</text>
<text class="r" x="1254" y="350" font-size="34" textLength="21.3" lengthAdjust="spacingAndGlyphs">%</text>
<text class="r" x="1079.8" y="582.1" font-size="34" textLength="146.1" lengthAdjust="spacingAndGlyphs">Locally made:</text>
<text class="b" x="1235" y="582.1" font-size="43" textLength="36" lengthAdjust="spacingAndGlyphs">15</text>
<text class="r" x="1273" y="582.1" font-size="34" textLength="22" lengthAdjust="spacingAndGlyphs">%</text>
<text class="r" x="1085.4" y="627.9" font-size="34" textLength="204.3" lengthAdjust="spacingAndGlyphs">(VAT on sales stage</text>
<text class="r" x="1110" y="660" font-size="34" textLength="153" lengthAdjust="spacingAndGlyphs">will be added)</text>

<!-- ===== CURRENT CHALLENGES ===== -->
<g fill="#17a595" stroke="#17a595" stroke-width="1" font-weight="700">
<text x="1457" y="99.6" font-size="57" textLength="184" lengthAdjust="spacingAndGlyphs">CURRENT</text>
<text x="1457" y="152.6" font-size="57" textLength="253" lengthAdjust="spacingAndGlyphs">CHALLENGES</text>
</g>
<rect x="1466" y="172.7" width="424" height="3" fill="#111"/>
<circle cx="1466.5" cy="174.2" r="9" fill="#111"/>
<text class="r" x="1493" y="236.5" font-size="34" textLength="345.5" lengthAdjust="spacingAndGlyphs">Grey market expanded in recent</text>
<text class="r" x="1494" y="271.8" font-size="34" textLength="82" lengthAdjust="spacingAndGlyphs">months</text>
<text class="r" x="1494" y="341" font-size="34" textLength="313.6" lengthAdjust="spacingAndGlyphs">New VAT at sales stage raised</text>
<text class="r" x="1493.5" y="376.6" font-size="34" textLength="93.5" lengthAdjust="spacingAndGlyphs">the price</text>
<text class="r" x="1493.5" y="453" font-size="34" textLength="342.5" lengthAdjust="spacingAndGlyphs">Costly dollar also contributed to</text>
<text class="r" x="1494" y="488.7" font-size="34" textLength="103" lengthAdjust="spacingAndGlyphs">price hike</text>
<text class="r" x="1493.5" y="565" font-size="34" textLength="299.3" lengthAdjust="spacingAndGlyphs">LC opening becomes harder</text>


<!-- ===== MACHINE ===== -->
<defs>
<g id="phoneBase">
<rect x="2.5" y="2.5" width="58" height="111" rx="10" fill="#fff" stroke="#2a4358" stroke-width="5"/>
<circle cx="18.8" cy="8.6" r="1.9" fill="#2a4358"/>
<rect x="25" y="7.7" width="20.5" height="1.9" rx="0.9" fill="#2a4358"/>
<circle cx="31.3" cy="107.5" r="4.2" fill="#fff" stroke="#2a4358" stroke-width="2.8"/>
</g>
</defs>

<!-- robot pole -->
<rect x="1003" y="-5" width="11" height="640" fill="#2a4358"/>
<rect x="1005.5" y="-5" width="6" height="640" fill="#7b818f"/>
<!-- dispenser pole -->
<rect x="1364.8" y="-5" width="25" height="759" fill="#2a4358"/>
<rect x="1368.8" y="-5" width="17" height="629" fill="#7b818f"/>
<rect x="1368.8" y="627" width="17" height="125" fill="#66b9e8"/>
<rect x="1364.8" y="623.5" width="25" height="3.5" fill="#2a4358"/>
<g transform="translate(1377.3,650) rotate(45)"><rect x="-3" y="-3" width="6" height="6" fill="#fbdcc6"/></g>
<rect x="1373" y="671" width="9" height="7" fill="#22b3a3" transform="rotate(5 1377 674)"/>
<g transform="translate(1377.3,701) rotate(45)"><rect x="-3" y="-3" width="6" height="6" fill="#f9b21b"/></g>
<rect x="1371" y="724" width="10" height="9" fill="#9ecae0" transform="rotate(-15 1376 728)"/>
<!-- nozzle -->
<path d="M1363.8,766 L1363.8,760 Q1363.8,751 1377,751 Q1390.5,751 1390.5,760 L1390.5,766 Z" fill="#4ec3b7" stroke="#2a4358" stroke-width="3.5"/>
<rect x="1359.5" y="766" width="36" height="8.6" fill="#22b3a3" stroke="#2a4358" stroke-width="3.5"/>
<path d="M1350.8,790 L1350.8,784 Q1350.8,774.6 1362,774.6 L1392,774.6 Q1403.5,774.6 1403.5,784 L1403.5,790 Z" fill="#1ba597" stroke="#2a4358" stroke-width="3.5"/>

<!-- arrows -->
<polygon points="998,849 1020,849 1020,870.5 1025,870.5 1009,890 993,870.5 998,870.5" fill="#fff"/>
<polygon points="1411,676 1432,676 1432,697 1437,697 1421,717 1405,697 1411,697" fill="#fff"/>

<!-- robot arm (zoomed coords) -->
<g transform="translate(900,580) scale(0.2716)" stroke="#2a4358" stroke-linejoin="round">
 <!-- arms -->
 <g stroke-linecap="round">
  <line x1="198" y1="222" x2="300" y2="390" stroke-width="56"/>
  <line x1="198" y1="222" x2="95" y2="440" stroke-width="56"/>
  <line x1="95" y1="440" x2="190" y2="600" stroke-width="56"/>
  <line x1="598" y1="222" x2="500" y2="390" stroke-width="56"/>
  <line x1="598" y1="222" x2="700" y2="440" stroke-width="56"/>
  <line x1="700" y1="440" x2="610" y2="600" stroke-width="56"/>
  <line x1="198" y1="222" x2="300" y2="390" stroke="#7b818f" stroke-width="32"/>
  <line x1="198" y1="222" x2="95" y2="440" stroke="#7b818f" stroke-width="32"/>
  <line x1="95" y1="440" x2="190" y2="600" stroke="#7b818f" stroke-width="32"/>
  <line x1="598" y1="222" x2="500" y2="390" stroke="#7b818f" stroke-width="32"/>
  <line x1="598" y1="222" x2="700" y2="440" stroke="#7b818f" stroke-width="32"/>
  <line x1="700" y1="440" x2="610" y2="600" stroke="#7b818f" stroke-width="32"/>
 </g>
 <rect x="382" y="240" width="36" height="175" fill="#7b818f" stroke-width="11"/>
 <line x1="382" y1="334" x2="418" y2="334" stroke-width="10"/>
 <rect x="351" y="317" width="31" height="115" fill="#1fb09f" stroke-width="10"/>
 <rect x="418" y="317" width="31" height="115" fill="#1fb09f" stroke-width="10"/>
 <path d="M351,298 L335,298 Q298,298 298,340 L298,405 Q298,447 335,447 L351,447 Z" fill="#2dbdb1" stroke-width="12"/>
 <path d="M449,298 L465,298 Q502,298 502,340 L502,405 Q502,447 465,447 L449,447 Z" fill="#2dbdb1" stroke-width="12"/>
 <rect x="322" y="190" width="156" height="60" rx="30" fill="#7b818f" stroke-width="12"/>
 <!-- joints -->
 <circle cx="198" cy="222" r="40" fill="#7b818f" stroke-width="12"/>
 <circle cx="598" cy="222" r="40" fill="#7b818f" stroke-width="12"/>
 <circle cx="95" cy="440" r="40" fill="#7b818f" stroke-width="12"/>
 <circle cx="700" cy="440" r="40" fill="#7b818f" stroke-width="12"/>
 <!-- side pads -->
 <path d="M215,590 L190,590 Q145,590 145,635 L145,735 Q145,780 190,780 L215,780 Z" fill="#1ba597" stroke-width="12"/>
 <rect x="205" y="575" width="32" height="220" fill="#22b3a3" stroke-width="10"/>
 <path d="M290,545 L270,545 Q232,545 232,590 L232,780 Q232,825 270,825 L290,825 Z" fill="#4ec3b7" stroke-width="12"/>
 <path d="M585,590 L610,590 Q655,590 655,635 L655,735 Q655,780 610,780 L585,780 Z" fill="#1ba597" stroke-width="12"/>
 <rect x="563" y="575" width="32" height="220" fill="#22b3a3" stroke-width="10"/>
 <path d="M510,545 L530,545 Q568,545 568,590 L568,780 Q568,825 530,825 L510,825 Z" fill="#4ec3b7" stroke-width="12"/>
 <!-- phone -->
 <rect x="292" y="492" width="216" height="412" rx="38" fill="#fff" stroke-width="15"/>
 <rect x="312" y="552" width="176" height="292" fill="#7b818f" stroke-width="12"/>
 <circle cx="352" cy="515" r="8" fill="#2a4358" stroke="none"/>
 <line x1="385" y1="515" x2="455" y2="515" stroke-width="9" stroke-linecap="round"/>
 <circle cx="400" cy="880" r="16" fill="#fff" stroke-width="9"/>
</g>

<!-- conveyor -->
<rect x="900" y="905.7" width="655" height="116.6" rx="58.3" fill="#2a4358"/>
<rect x="909.5" y="915.4" width="636" height="98.1" rx="49" fill="#9ecae0"/>
<rect x="928" y="935" width="599" height="58.4" rx="29.2" fill="#2a4358"/>
<g fill="#9ecae0">
<circle cx="960.3" cy="964.2" r="22"/><circle cx="1049.6" cy="964.2" r="22"/><circle cx="1138.9" cy="964.2" r="22"/>
<circle cx="1228.2" cy="964.2" r="22"/><circle cx="1317.5" cy="964.2" r="22"/><circle cx="1406.8" cy="964.2" r="22"/><circle cx="1496" cy="964.2" r="22"/>
</g>

<!-- phones on belt -->
<g transform="translate(1116,789.5)"><use href="#phoneBase"/><rect x="8.5" y="20" width="46" height="77" fill="#7b818f" stroke="#2a4358" stroke-width="3"/></g>
<g transform="translate(1231,789.5)"><use href="#phoneBase"/><rect x="8.5" y="20" width="46" height="77" fill="#7b818f" stroke="#2a4358" stroke-width="3"/></g>
<g transform="translate(1345.5,789.5)"><use href="#phoneBase"/>
 <rect x="8.5" y="20" width="46" height="77" fill="#66b9e8" stroke="#2a4358" stroke-width="3"/>
 <rect x="10" y="21.5" width="11.5" height="35" fill="#7b818f"/><rect x="43" y="21.5" width="10" height="35" fill="#7b818f"/>
 <rect x="30" y="46" width="5" height="5" fill="#f9b21b" transform="rotate(45 32.5 48.5)"/>
 <rect x="13" y="65" width="11" height="11" fill="#f05a28" transform="rotate(-30 18.5 70.5)"/>
 <rect x="37" y="62" width="9" height="9" fill="#fbdcc6" transform="rotate(20 41.5 66.5)"/>
 <rect x="29" y="78" width="12" height="11" fill="#9ecae0" transform="rotate(10 35 83.5)"/>
</g>
<g transform="translate(1460.5,789.5)"><use href="#phoneBase"/>
 <rect x="8.5" y="20" width="46" height="77" fill="#66b9e8" stroke="#2a4358" stroke-width="3"/>
 <rect x="10.1" y="23.5" width="18.8" height="15.4" fill="#f05a28"/><rect x="33.6" y="23.5" width="18.8" height="15.4" fill="#f9b21b"/>
 <rect x="10.1" y="43.7" width="18.8" height="15.4" fill="#9ecae0"/><rect x="33.6" y="43.7" width="18.8" height="15.4" fill="#7b818f"/>
 <rect x="10.1" y="63.9" width="18.8" height="15.4" fill="#fbdcc6"/><rect x="33.6" y="63.9" width="18.8" height="15.4" fill="#22b3a3"/>
</g>

<!-- legs -->
<rect x="979" y="1020" width="29" height="130" fill="#2a4358"/><rect x="987" y="1022" width="13" height="124" fill="#9ecae0"/>
<rect x="1447" y="1020" width="30" height="130" fill="#2a4358"/><rect x="1455" y="1022" width="13.6" height="124" fill="#9ecae0"/>
<rect x="1261.4" y="1020" width="12.6" height="50" fill="#2a4358"/>
<rect x="1153" y="1115" width="12.6" height="35" fill="#2a4358"/>
<rect x="1301" y="1115" width="13" height="35" fill="#2a4358"/>
<!-- base platform -->
<rect x="962" y="1145.8" width="532" height="30" rx="10" fill="#2a4358"/>
<rect x="970" y="1154" width="516" height="9" rx="4" fill="#9ecae0"/>
<!-- bottom bar -->
<rect x="290" y="1163.5" width="1533" height="13" rx="6.5" fill="#2a4358"/>

<!-- lever box -->
<rect x="930" y="1059" width="52" height="62" fill="#7b818f" stroke="#2a4358" stroke-width="4"/>
<rect x="935" y="1106" width="17" height="8" rx="4" fill="#fbdcc6"/><circle cx="954" cy="1110" r="4" fill="#2a4358"/>
<circle cx="970.5" cy="1110" r="3.8" fill="#f05a28"/>
<line x1="951.6" y1="1078.7" x2="903" y2="1045" stroke="#2a4358" stroke-width="15" stroke-linecap="round"/>
<line x1="855" y1="1015" x2="904" y2="1047" stroke="#2a4358" stroke-width="23" stroke-linecap="round"/>
<line x1="855" y1="1015" x2="901" y2="1045" stroke="#f05a28" stroke-width="15" stroke-linecap="round"/>
<circle cx="951.6" cy="1078.7" r="16" fill="#2a4358"/><circle cx="951.6" cy="1078.7" r="6" fill="#7b818f"/>

<!-- pipes left -->
<rect x="1008" y="1031" width="112" height="11" fill="#7b818f" stroke="#2a4358" stroke-width="3"/>
<path d="M1112,1036.5 L1120,1036.5 Q1132,1036.5 1132,1048 L1132,1068" fill="none" stroke="#2a4358" stroke-width="12"/>
<path d="M1112,1036.5 L1120,1036.5 Q1132,1036.5 1132,1048 L1132,1068" fill="none" stroke="#7b818f" stroke-width="6"/>
<rect x="1113" y="1027" width="5" height="20" rx="2" fill="#7b818f" stroke="#2a4358" stroke-width="2.5"/>
<rect x="1123" y="1049" width="18" height="5" rx="2" fill="#7b818f" stroke="#2a4358" stroke-width="2.5"/>
<g transform="translate(1005,1040) scale(0.0849)" stroke="#2a4358" stroke-linejoin="round">
 <rect x="740" y="330" width="140" height="185" fill="#7b818f" stroke-width="38"/>
 <path d="M540,300 A225,225 0 1 0 540,570 Q600,560 660,555 L660,305 Q600,305 540,300 Z" fill="#f6b221" stroke-width="42"/>
 <g stroke="#fff" fill="none" stroke-linecap="round">
  <line x1="440" y1="392" x2="655" y2="392" stroke-width="42"/>
  <line x1="440" y1="482" x2="655" y2="482" stroke-width="42"/>
  <circle cx="410" cy="355" r="42" stroke-width="34"/>
  <circle cx="410" cy="515" r="42" stroke-width="34"/>
 </g>
 <rect x="668" y="272" width="84" height="312" rx="40" fill="#fff" stroke-width="40"/>
</g>
<path d="M1080,1058 Q1080,1048 1090,1048 Q1100,1048 1100,1058 L1100,1090 L1094,1108 L1086,1108 L1080,1090 Z" fill="#7b818f" stroke="#2a4358" stroke-width="3"/>
<rect x="1078" y="1060" width="24" height="4" rx="2" fill="#7b818f" stroke="#2a4358" stroke-width="2.5"/>
<rect x="1078" y="1085" width="24" height="4" rx="2" fill="#7b818f" stroke="#2a4358" stroke-width="2.5"/>
<path d="M1090,1108 L1090,1122 Q1090,1133 1100,1133 L1128,1133 Q1138,1133 1138,1122 L1138,1116" fill="none" stroke="#2a4358" stroke-width="11"/>
<path d="M1090,1108 L1090,1122 Q1090,1133 1100,1133 L1128,1133 Q1138,1133 1138,1122 L1138,1116" fill="none" stroke="#7b818f" stroke-width="5"/>
<rect x="1081" y="1108" width="18" height="5" rx="2" fill="#7b818f" stroke="#2a4358" stroke-width="2.5"/>
<rect x="1101" y="1124" width="5" height="18" rx="2" fill="#7b818f" stroke="#2a4358" stroke-width="2.5"/>
<rect x="1119" y="1124" width="5" height="18" rx="2" fill="#7b818f" stroke="#2a4358" stroke-width="2.5"/>

<!-- machine box -->
<rect x="1106.6" y="1066" width="229" height="52.4" rx="9" fill="#7b818f" stroke="#2a4358" stroke-width="5"/>
<g fill="#3d4852">
<rect x="1126" y="1077" width="20.3" height="30"/><rect x="1152.8" y="1077" width="20.3" height="30"/>
<rect x="1179.7" y="1077" width="20.3" height="30"/><rect x="1206.5" y="1077" width="20.3" height="30"/>
</g>
<rect x="1231.6" y="1100" width="16" height="7.5" rx="3.7" fill="#fbdcc6"/><circle cx="1248" cy="1103.7" r="3.7" fill="#2a4358"/>
<g>
<circle cx="1258.7" cy="1080" r="3.6" fill="#22b3a3"/><circle cx="1271.4" cy="1080" r="3.6" fill="#9ecae0"/><circle cx="1284" cy="1080" r="3.6" fill="#66b9e8"/><circle cx="1296.7" cy="1080" r="3.6" fill="#f9b21b"/><circle cx="1309.8" cy="1080" r="3.6" fill="#66b9e8"/><circle cx="1322.6" cy="1080" r="3.6" fill="#fbdcc6"/>
<circle cx="1258.7" cy="1091.7" r="3.6" fill="#66b9e8"/><circle cx="1271.4" cy="1091.7" r="3.6" fill="#22b3a3"/><circle cx="1284" cy="1091.7" r="3.6" fill="#f05a28"/><circle cx="1296.7" cy="1091.7" r="3.6" fill="#9ecae0"/><circle cx="1309.8" cy="1091.7" r="3.6" fill="#22b3a3"/><circle cx="1322.6" cy="1091.7" r="3.6" fill="#f9b21b"/>
<circle cx="1258.7" cy="1103.6" r="3.6" fill="#f05a28"/><circle cx="1271.4" cy="1103.6" r="3.6" fill="#fbdcc6"/><circle cx="1284" cy="1103.6" r="3.6" fill="#f9b21b"/><circle cx="1296.7" cy="1103.6" r="3.6" fill="#fbdcc6"/><circle cx="1309.8" cy="1103.6" r="3.6" fill="#9ecae0"/><circle cx="1322.6" cy="1103.6" r="3.6" fill="#66b9e8"/>
</g>
<rect x="1333" y="1073" width="27" height="39" rx="8" fill="#22b3a3" stroke="#2a4358" stroke-width="4"/>
<!-- gauge & right pipe -->
<line x1="1363" y1="1058" x2="1363" y2="1094" stroke="#2a4358" stroke-width="5"/>
<rect x="1358" y="1059.5" width="10" height="3" fill="#f9b21b"/>
<circle cx="1362.8" cy="1046" r="12" fill="#e8eaee" stroke="#2a4358" stroke-width="2.5"/>
<line x1="1358" y1="1051" x2="1365" y2="1044" stroke="#2a4358" stroke-width="1.2"/>
<path d="M1358,1092 L1402,1092 Q1414,1092 1414,1080 L1414,1025" fill="none" stroke="#2a4358" stroke-width="12"/>
<path d="M1358,1092 L1402,1092 Q1414,1092 1414,1080 L1414,1025" fill="none" stroke="#7b818f" stroke-width="6"/>
<rect x="1371" y="1083" width="5" height="19" rx="2" fill="#7b818f" stroke="#2a4358" stroke-width="2.5"/>
<rect x="1396" y="1083" width="5" height="19" rx="2" fill="#7b818f" stroke="#2a4358" stroke-width="2.5"/>
<rect x="1405" y="1076" width="19" height="5" rx="2" fill="#7b818f" stroke="#2a4358" stroke-width="2.5"/>
<rect x="1405" y="1023" width="19" height="5" rx="2" fill="#7b818f" stroke="#2a4358" stroke-width="2.5"/>

<g fill="#fff">
<polygon transform="translate(1564,838.5) rotate(31)" points="0,-10.5 20,-10.5 20,-16 39,0 20,16 20,10.5 0,10.5"/>
<polygon transform="translate(1678.6,922.5) rotate(57)" points="0,-10.5 20,-10.5 20,-16 39,0 20,16 20,10.5 0,10.5"/>
</g>
<!-- ===== BOX (zoomed coords) ===== -->
<g transform="translate(1540,810) scale(0.3125)" stroke="#2a4358" stroke-linejoin="round">
 <!-- arrows -->

 <!-- tilted phone -->
 <g transform="translate(265.3,273.3) rotate(45) scale(1.1)">
  <rect x="-88" y="-170" width="176" height="340" rx="32" fill="#fff" stroke-width="16"/>
  <rect x="-66" y="-118" width="132" height="242" fill="#66b9e8" stroke-width="10"/>
  <rect x="-58" y="-108" width="56" height="48" fill="#f05a28" stroke="none" transform="rotate(0)"/>
  <rect x="3" y="-108" width="56" height="48" fill="#f9b21b" stroke="none"/>
  <rect x="-58" y="-52" width="56" height="48" fill="#9ecae0" stroke="none"/>
  <rect x="3" y="-52" width="56" height="48" fill="#7b818f" stroke="none"/>
  <rect x="-58" y="4" width="56" height="48" fill="#fbdcc6" stroke="none"/>
  <rect x="3" y="4" width="56" height="48" fill="#22b3a3" stroke="none"/>
  <circle cx="-28" cy="-143" r="6" fill="#2a4358" stroke="none"/>
  <line x1="-5" y1="-143" x2="50" y2="-143" stroke-width="7" stroke-linecap="round"/>
  <circle cx="0" cy="146" r="14" fill="#fff" stroke-width="8"/>
 </g>
 <!-- flaps -->
 <line x1="235" y1="715" x2="72" y2="878" stroke-width="48" stroke-linecap="round"/>
 <line x1="235" y1="715" x2="72" y2="878" stroke="#eba882" stroke-width="26" stroke-linecap="round"/>
 <line x1="700" y1="715" x2="863" y2="878" stroke-width="48" stroke-linecap="round"/>
 <line x1="700" y1="715" x2="863" y2="878" stroke="#eba882" stroke-width="26" stroke-linecap="round"/>
 <!-- phone in box -->
 <rect x="285" y="540" width="365" height="170" rx="32" fill="#fff" stroke-width="14"/>
 <rect x="338" y="557" width="256" height="160" fill="#66b9e8" stroke-width="9"/>
 <rect x="396" y="567" width="52" height="58" fill="#fbdcc6" stroke="none"/>
 <rect x="462" y="567" width="52" height="58" fill="#9ecae0" stroke="none"/>
 <rect x="527" y="567" width="52" height="58" fill="#f05a28" stroke="none"/>
 <rect x="396" y="640" width="52" height="50" fill="#22b3a3" stroke="none"/>
 <rect x="462" y="640" width="52" height="50" fill="#7b818f" stroke="none"/>
 <rect x="527" y="640" width="52" height="50" fill="#f9b21b" stroke="none"/>
 <circle cx="310" cy="632" r="14" fill="#fff" stroke-width="8"/>
 <circle cx="626" cy="593" r="6" fill="#2a4358" stroke="none"/>
 <line x1="626" y1="615" x2="626" y2="675" stroke-width="7" stroke-linecap="round"/>
 <!-- box body -->
 <rect x="240" y="688" width="455" height="452" rx="12" fill="#eba882" stroke-width="14"/>
 <!-- globe -->
 <g fill="none" stroke-width="13.5">
  <circle cx="466" cy="866.6" r="108"/>
  <ellipse cx="466" cy="866.6" rx="62" ry="108"/>
  <line x1="466" y1="758" x2="466" y2="975"/>
  <line x1="370" y1="818" x2="562" y2="818"/>
  <line x1="368" y1="911" x2="564" y2="911"/>
 </g>
 <!-- symbols -->
 <g fill="#2a4358" stroke="none">
  <path d="M468,1064 Q471,1040 495,1040 Q519,1040 522,1064 Z"/>
  <path d="M492,1060 L498,1060 L498,1094 Q498,1104 488,1104 Q478,1104 478,1094 L483,1094 Q483,1099 488,1099 Q492,1099 492,1094 Z"/>
  <path d="M531,1040 L571,1040 L571,1058 Q571,1072 554,1074 L554,1095 L566,1095 L566,1101 L536,1101 L536,1095 L548,1095 L548,1074 Q531,1072 531,1058 Z"/>
  <path d="M594,1101 L594,1062 L587,1066 L602,1040 L617,1066 L610,1062 L610,1095 L623,1095 L623,1062 L616,1066 L631,1040 L646,1066 L639,1062 L639,1095 L643,1095 L643,1101 Z"/>
 </g>
</g>


</svg>
</body></html>
